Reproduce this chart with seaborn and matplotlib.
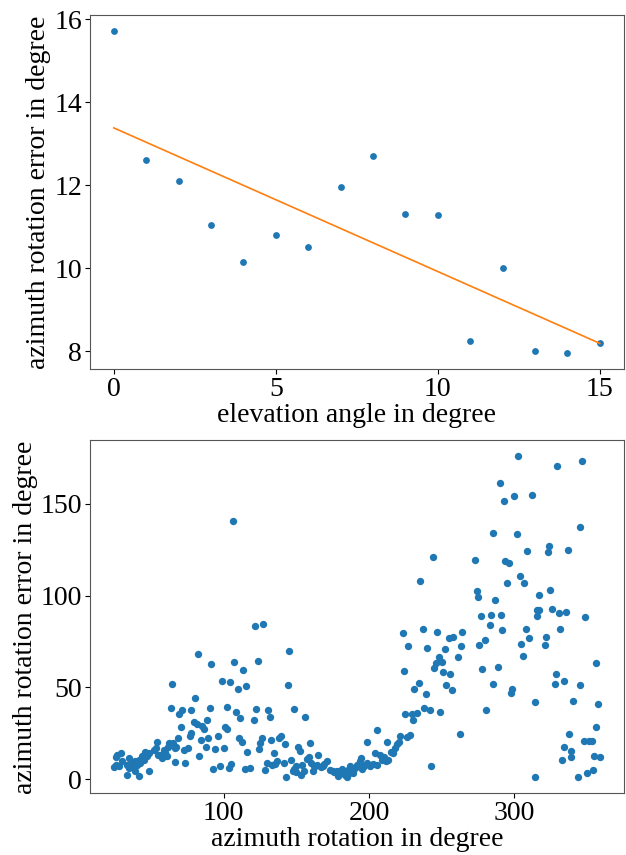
import numpy as np
import pandas as pd
import matplotlib
matplotlib.use('Agg')
import matplotlib.pyplot as plt
import seaborn as sns

# elevation angle vs error (top plot)
elevation = list(range(16))
elev_error = [15.7, 12.6, 12.1, 11.05, 10.15, 10.8, 10.5, 11.95,
              12.7, 11.3, 11.28, 8.25, 10.0, 8.0, 7.95, 8.2]

# azimuth rotation vs error (bottom plot)
azimuth = [
    329.6, 346.5, 345.6, 323.6, 322.9, 336.7, 317.0, 324.5, 315.9, 317.3,
    315.4, 325.7, 330.7, 335.5, 348.8, 331.6, 322.0, 320.9, 356.0, 328.4,
    328.0, 334.0, 345.0, 314.2, 340.6, 357.5, 356.4, 337.6, 347.7, 351.3,
    353.4, 334.4, 339.0, 339.4, 333.0, 354.8, 358.9, 353.9, 350.0, 343.8,
    314.2,
    302.8, 290.0, 292.7, 300.0, 312.0, 285.6, 301.6, 308.7, 273.0, 293.8,
    296.4, 303.9, 306.7, 295.0, 274.2, 274.8, 286.7, 276.9, 284.0, 290.6,
    283.0, 291.8, 264.0, 263.6, 276.0, 279.7, 307.8, 304.8, 310.0, 306.0,
    278.0, 289.0, 285.2, 298.6, 297.7, 280.5, 262.7,
    243.9, 235.2, 223.3, 237.0, 246.9, 255.3, 257.7, 227.0, 240.2, 252.4,
    248.0, 261.0, 246.2, 250.0, 245.0, 224.2, 251.0, 256.0, 234.3, 230.8,
    252.8, 257.2, 239.1, 238.0, 241.9, 248.9, 224.9, 229.5, 232.9, 230.2,
    226.0, 228.3, 221.4, 221.0, 219.6, 243.0,
    205.2, 199.0, 212.3, 218.0, 216.4, 215.3, 213.0, 211.8, 210.5, 208.9,
    207.7, 204.3, 205.8, 202.7, 200.8, 198.5, 196.7, 195.5, 194.6, 193.5,
    191.7, 190.5, 188.9, 187.1, 185.9, 184.8, 183.6, 182.1, 181.6, 180.2,
    177.9, 176.1, 175.2, 172.9, 171.1, 169.2, 166.9, 163.0, 164.9, 164.2,
    168.7, 161.9, 161.2, 160.3, 158.4, 157.3, 159.6, 155.0, 153.9, 153.4,
    156.2, 148.4, 152.2, 151.1, 150.0, 149.8, 148.4, 147.4, 146.5, 143.1,
    141.7, 142.4, 139.7, 137.8, 136.7, 135.0, 133.3, 129.8, 128.2, 134.4,
    132.6, 126.4, 125.2, 124.5, 122.5, 130.5, 131.6, 145.2, 144.0, 123.6,
    184.8, 179.0, 186.5,
    82.6, 91.5, 107.4, 113.5, 98.6, 104.6, 109.6, 115.6, 80.5, 71.4,
    69.6, 77.8, 90.4, 102.5, 108.5, 111.5, 120.6, 88.8, 79.4, 81.7,
    85.2, 86.7, 70.7, 77.8, 76.6, 96.4, 68.7, 84.5, 89.3, 110.3,
    112.6, 67.5, 72.5, 75.3, 87.9, 94.3, 100.0, 116.1, 83.3, 66.8,
    73.2, 92.7, 97.7, 103.4, 105.1, 114.4, 118.4, 100.7, 102.0, 106.2,
    121.6, 127.1, 64.5, 63.6,
    54.2, 62.7, 65.2, 61.5, 66.8, 58.8, 59.9, 56.5, 57.7, 61.1,
    53.1, 51.9, 48.5, 46.2, 47.4, 43.9, 45.0, 41.6, 42.7, 40.5,
    39.3, 37.0, 35.9, 38.1, 39.3, 34.7, 33.6, 30.2, 27.8, 25.6,
    24.4, 26.7, 29.0, 25.6, 34.7, 33.6, 41.6, 48.5, 55.0,
]
azi_error = [
    170.6, 173.2, 137.2, 127.1, 123.5, 125.0, 100.6, 102.9, 92.1, 92.1,
    89.0, 92.5, 90.3, 90.8, 88.1, 81.6, 77.3, 73.0, 63.5, 57.0,
    51.8, 53.6, 51.5, 41.9, 42.4, 41.0, 28.5, 24.8, 20.8, 20.6,
    20.8, 17.3, 15.5, 11.9, 10.5, 12.6, 12.1, 4.7, 3.1, 1.3,
    0.9,
    175.9, 161.6, 151.7, 154.2, 154.8, 134.3, 133.4, 124.4, 119.3, 119.0,
    117.9, 110.7, 107.1, 106.7, 102.4, 99.3, 97.5, 89.0, 89.4, 89.4,
    83.8, 81.3, 80.0, 72.6, 73.3, 76.0, 81.6, 73.8, 76.9, 67.3,
    59.8, 61.2, 51.8, 48.9, 47.1, 37.5, 24.4,
    121.0, 108.0, 79.5, 81.6, 80.3, 76.9, 77.5, 72.6, 71.3, 71.0,
    66.6, 66.6, 63.2, 63.9, 60.7, 58.7, 58.3, 57.4, 52.4, 49.3,
    51.1, 48.8, 46.2, 39.0, 37.5, 36.8, 35.4, 35.4, 35.9, 32.3,
    22.8, 23.8, 23.5, 20.0, 19.0, 6.9,
    26.7, 20.2, 20.2, 16.8, 14.1, 15.0, 10.5, 9.9, 11.8, 10.5,
    13.2, 14.2, 7.7, 8.1, 6.9, 8.7, 6.9, 5.4, 11.4, 9.6,
    7.7, 6.0, 3.1, 6.9, 5.0, 0.9, 2.0, 3.3, 5.4, 4.5,
    4.5, 3.6, 4.2, 4.9, 9.9, 8.1, 6.3, 6.9, 13.2, 7.7,
    6.9, 6.9, 4.5, 8.7, 12.1, 11.0, 19.5, 4.5, 7.7, 2.3,
    33.6, 38.1, 15.3, 17.7, 7.2, 3.8, 5.4, 4.2, 10.5, 0.9,
    8.7, 19.0, 23.5, 22.2, 10.1, 8.1, 7.4, 9.0, 5.0, 14.1,
    21.3, 22.6, 19.9, 16.4, 38.1, 37.5, 33.6, 69.9, 51.5, 64.3,
    4.2, 1.5, 3.5,
    67.9, 62.7, 63.9, 59.6, 53.6, 52.7, 49.3, 50.5, 44.0, 37.5,
    35.6, 37.9, 38.8, 39.2, 36.8, 33.2, 32.1, 32.1, 31.3, 30.0,
    29.1, 27.2, 28.5, 24.9, 23.5, 23.7, 22.6, 21.3, 22.2, 22.2,
    20.4, 17.7, 15.9, 16.8, 17.7, 16.3, 16.8, 15.0, 12.8, 9.2,
    9.0, 5.6, 7.2, 6.0, 8.1, 5.6, 6.0, 28.5, 27.5, 140.8,
    83.4, 84.3, 51.8, 38.5,
    20.4, 19.9, 19.9, 17.3, 16.8, 15.9, 15.0, 13.2, 11.4, 12.3,
    16.8, 15.9, 14.1, 15.0, 12.3, 12.3, 10.5, 10.5, 8.7, 7.7,
    9.6, 8.7, 6.9, 6.0, 4.2, 6.0, 7.7, 9.6, 6.9, 7.7,
    6.3, 13.2, 14.1, 11.8, 11.4, 2.3, 1.5, 4.2, 13.0,
]

top_df = pd.DataFrame({'elevation': elevation, 'error': elev_error})
bot_df = pd.DataFrame({'azimuth': azimuth, 'error': azi_error})

# linear fit for the orange line
slope, intercept = np.polyfit(top_df['elevation'], top_df['error'], 1)
top_df['fit'] = intercept + slope * top_df['elevation']

plt.rcParams['font.family'] = ['Liberation Serif', 'DejaVu Serif']
fs = 20

fig = plt.figure(figsize=(6.26, 8.55), dpi=100)
ax1 = fig.add_axes([0.143, 0.568, 0.854, 0.414])
ax2 = fig.add_axes([0.143, 0.072, 0.854, 0.413])

sns.scatterplot(data=top_df, x='elevation', y='error', ax=ax1,
                color='#1f77b4', s=24, linewidth=0)
sns.lineplot(data=top_df, x='elevation', y='fit', ax=ax1,
             color='#ff7f0e', linewidth=1.2)
ax1.set_xticks([0, 5, 10, 15])
ax1.set_yticks([8, 10, 12, 14, 16])
ax1.set_xlabel('elevation angle in degree', fontsize=fs, labelpad=1)
ax1.set_ylabel('azimuth rotation error in degree', fontsize=fs, labelpad=2)
ax1.tick_params(labelsize=fs, pad=2)

sns.scatterplot(data=bot_df, x='azimuth', y='error', ax=ax2,
                color='#1f77b4', s=28, linewidth=0)
ax2.set_xticks([100, 200, 300])
ax2.set_yticks([0, 50, 100, 150])
ax2.set_xlabel('azimuth rotation in degree', fontsize=fs, labelpad=1)
ax2.set_ylabel('azimuth rotation error in degree', fontsize=fs, labelpad=2)
ax2.tick_params(labelsize=fs, pad=2)

for ax in (ax1, ax2):
    for sp in ax.spines.values():
        sp.set_color('#555555')

fig.savefig('out.png', dpi=100)
